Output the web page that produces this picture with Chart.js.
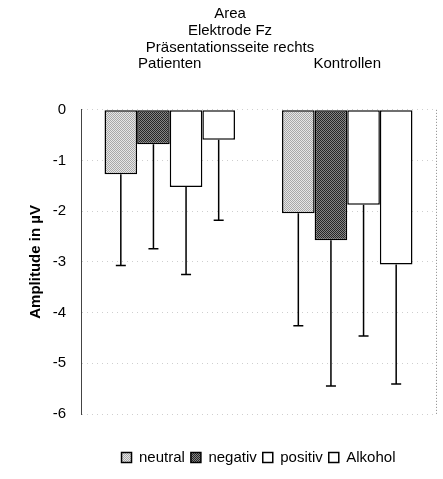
<!DOCTYPE html>
<html lang="de">
<head>
<meta charset="UTF-8">
<title>Area Elektrode Fz</title>
<script src="https://cdn.jsdelivr.net/npm/chart.js"></script>
<style>
    body { margin: 0; background: #fff; }
    #wrap { width: 443px; height: 479px; }
</style>
</head>
<body>
<div id="wrap"><canvas id="chart"></canvas></div>
<script>
// Mittelwerte und Standardabweichungen (µV)
const categories = ['Patienten', 'Kontrollen'];
const seriesNames = ['neutral', 'negativ', 'positiv', 'Alkohol'];
const neutral = [-1.27, -2.04];
const negativ = [-0.68, -2.57];
const positiv = [-1.52, -1.87];
const alkohol = [-0.59, -3.05];
const neutralSd = [1.80, 2.22];
const negativSd = [2.06, 2.88];
const positivSd = [1.73, 2.59];
const alkoholSd = [1.59, 2.36];
const yMin = -6;
const yMax = 0;

const ctx = document.getElementById('chart').getContext('2d');
const font = 'Liberation Sans, Arial, sans-serif';

// kleines Punktraster als Fuellung
function stipple(a, b) {
    const c = document.createElement('canvas');
    c.width = 2; c.height = 2;
    const g = c.getContext('2d');
    g.fillStyle = a; g.fillRect(0, 0, 2, 2);
    g.fillStyle = b; g.fillRect(0, 0, 1, 1); g.fillRect(1, 1, 1, 1);
    return ctx.createPattern(c, 'repeat');
}

const fills = [stipple('#e6e6e6', '#a8a8a8'), stipple('#858585', '#262626'), '#ffffff', '#ffffff'];
const values = [neutral, negativ, positiv, alkohol];
const sds = [neutralSd, negativSd, positivSd, alkoholSd];

const datasets = seriesNames.map((name, i) => ({
    label: name,
    data: values[i],
    sd: sds[i],
    backgroundColor: fills[i],
    borderColor: '#000',
    borderWidth: 1.5,
    borderSkipped: false,
    barPercentage: 1,
    categoryPercentage: 0.735
}));

// Fehlerbalken nach unten (Mittelwert - SD)
const errorBars = {
    id: 'errorBars',
    afterDatasetsDraw(chart) {
        const c = chart.ctx;
        const y = chart.scales.y;
        c.save();
        c.strokeStyle = '#000';
        c.lineWidth = 1.5;
        chart.data.datasets.forEach((ds, i) => {
            chart.getDatasetMeta(i).data.forEach((bar, j) => {
                const yEnd = y.getPixelForValue(ds.data[j] - ds.sd[j]);
                c.beginPath();
                c.moveTo(bar.x, bar.y);
                c.lineTo(bar.x, yEnd);
                c.moveTo(bar.x - 5, yEnd);
                c.lineTo(bar.x + 5, yEnd);
                c.stroke();
            });
        });
        c.restore();
    }
};

// rechter Rand der Zeichenflaeche gepunktet
const frame = {
    id: 'frame',
    beforeDatasetsDraw(chart) {
        const a = chart.chartArea;
        const c = chart.ctx;
        c.save();
        c.strokeStyle = '#888';
        c.lineWidth = 1;
        c.setLineDash([1, 2]);
        c.beginPath();
        c.moveTo(a.right + 0.5, a.top);
        c.lineTo(a.right + 0.5, a.bottom);
        c.stroke();
        c.restore();
    }
};

new Chart(ctx, {
    type: 'bar',
    data: { labels: categories, datasets: datasets },
    plugins: [frame, errorBars],
    options: {
        responsive: true,
        maintainAspectRatio: false,
        animation: false,
        layout: { padding: { left: 24, right: 7, top: 3, bottom: 4 } },
        plugins: {
            title: {
                display: true,
                text: ['Area', 'Elektrode Fz', 'Präsentationsseite rechts'],
                color: '#000',
                font: { family: font, size: 15, weight: 'normal', lineHeight: 1.13 },
                padding: { top: 2, bottom: 0 }
            },
            legend: {
                position: 'bottom',
                fullSize: false,
                title: { display: true, text: '', font: { size: 10 }, padding: { top: 18, bottom: 0 } },
                labels: {
                    color: '#000',
                    boxWidth: 10,
                    boxHeight: 10,
                    padding: 6,
                    font: { family: font, size: 15 }
                }
            },
            tooltip: { enabled: false }
        },
        scales: {
            x: {
                position: 'top',
                afterFit(scale) { scale.height = 54; },
                grid: { display: false },
                border: { display: false },
                ticks: {
                    color: '#000',
                    padding: 29,
                    font: { family: font, size: 15 }
                }
            },
            y: {
                min: yMin,
                max: yMax,
                afterFit(scale) { scale.width = 57; },
                ticks: {
                    stepSize: 1,
                    color: '#000',
                    padding: 15,
                    font: { family: font, size: 15 }
                },
                grid: { color: '#cfcfcf', drawTicks: false },
                border: { display: true, color: '#444', width: 1, dash: [1, 4] },
                title: {
                    display: true,
                    text: 'Amplitude in µV',
                    color: '#000',
                    padding: { top: 3, bottom: 0 },
                    font: { family: font, size: 15, weight: 'bold' }
                }
            }
        }
    }
});
</script>
</body>
</html>
